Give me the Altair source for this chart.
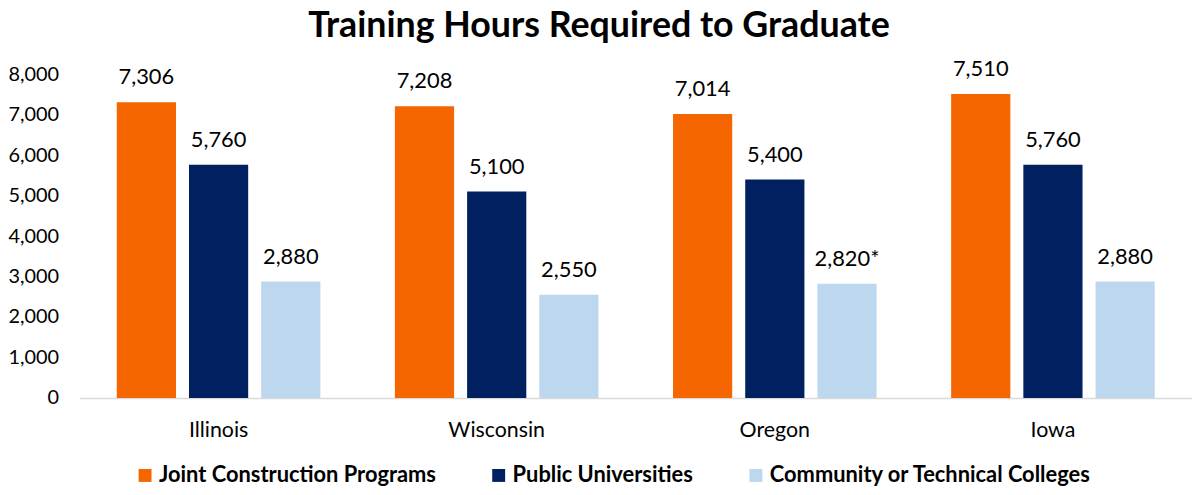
import altair as alt
import pandas as pd

states = ["Illinois", "Wisconsin", "Oregon", "Iowa"]
series = ["Joint Construction Programs", "Public Universities", "Community or Technical Colleges"]
joint = [7306, 7208, 7014, 7510]
public = [5760, 5100, 5400, 5760]
community = [2880, 2550, 2820, 2880]
community_note = ["", "", "*", ""]
colors = ["#F56600", "#002060", "#BDD7EE"]

rows = []
for i, st in enumerate(states):
    for s, vals, notes in [
        (series[0], joint, None),
        (series[1], public, None),
        (series[2], community, community_note),
    ]:
        v = vals[i]
        lab = f"{v:,}" + (notes[i] if notes else "")
        rows.append({"state": st, "series": s, "value": v, "label": lab})
df = pd.DataFrame(rows)

FONT = "Lato"

x = alt.X("state:N", sort=states, title=None,
          scale=alt.Scale(paddingInner=0.268, paddingOuter=0.134),
          axis=alt.Axis(labelAngle=0, labelFontSize=21.5, labelFont=FONT, labelColor="#000000",
                        domainColor="#D9D9D9", domainWidth=1.5, ticks=False, labelPadding=22))
xo = alt.XOffset("series:N", sort=series, scale=alt.Scale(paddingInner=0.18))
y = alt.Y("value:Q", title=None,
          scale=alt.Scale(domain=[0, 8000], nice=False),
          axis=alt.Axis(values=list(range(0, 8001, 1000)), format=",d", grid=False, domain=False,
                        ticks=False, labelFontSize=20, labelFont=FONT, labelColor="#000000",
                        labelPadding=21))

bars = alt.Chart(df).mark_bar().encode(
    x=x, xOffset=xo, y=y,
    color=alt.Color("series:N", sort=series,
                    scale=alt.Scale(domain=series, range=colors),
                    legend=alt.Legend(title=None, orient="none", legendX=55, legendY=393,
                                      direction="horizontal", symbolType="square", symbolSize=169,
                                      symbolStrokeWidth=0,
                                      labelFontSize=22, labelFontWeight="bold", labelFont=FONT,
                                      labelColor="#000000", columnPadding=52, labelOffset=3,
                                      labelLimit=500)),
)

text = alt.Chart(df).mark_text(baseline="alphabetic", dy=-18, fontSize=22, font=FONT, color="#000000").encode(
    x=x, xOffset=xo, y=y, text="label:N"
)

chart = alt.layer(bars, text).properties(
    width=1120, height=326,
    title=alt.TitleParams("Training Hours Required to Graduate", fontSize=36, fontWeight="bold",
                          font=FONT, color="#000000", anchor="middle", dx=-37, offset=13),
    autosize=alt.AutoSizeParams(type="none"),
    padding={"left": 72, "top": 65, "right": 0, "bottom": 88},
).configure_view(stroke=None)

chart.save("out.html", embed_options={"renderer": "svg", "actions": False})
